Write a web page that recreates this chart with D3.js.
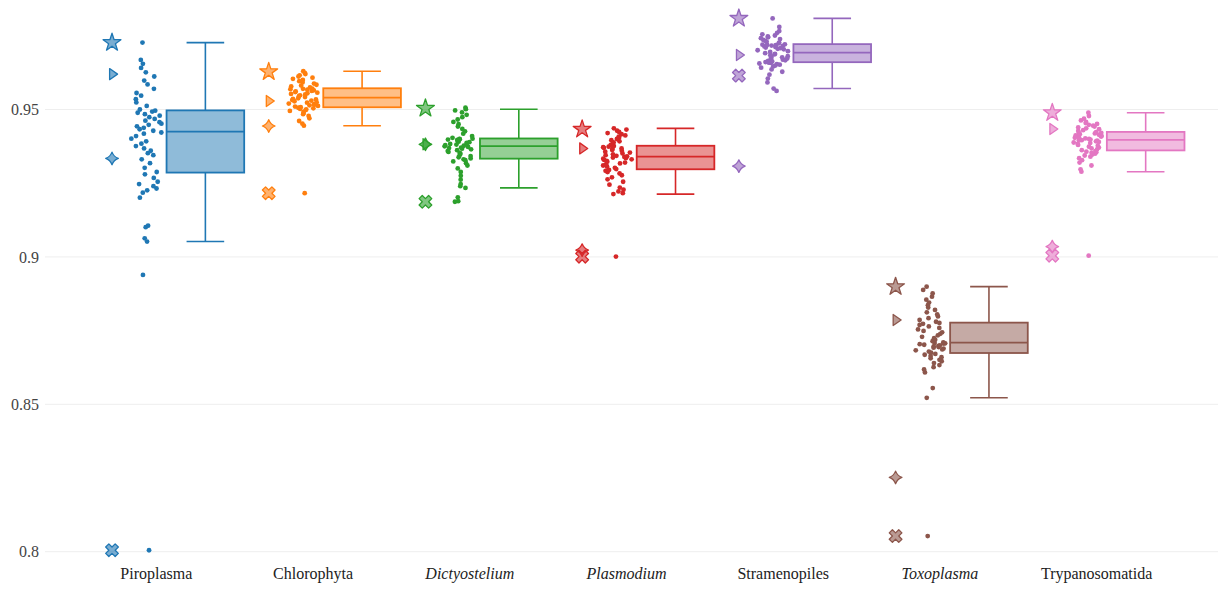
<!DOCTYPE html>
<html><head><meta charset="utf-8">
<script src="https://cdn.jsdelivr.net/npm/d3@7/dist/d3.min.js"></script>
<style>
html,body{margin:0;padding:0;background:#fff;}
svg{display:block;}
svg text{font-family:"Liberation Serif","Times New Roman",serif !important;}
</style></head>
<body>
<svg id="chart" width="1218" height="590"></svg>
<script>
// ---------- DATA ----------
const categories = ["Piroplasma","Chlorophyta","Dictyostelium","Plasmodium","Stramenopiles","Toxoplasma","Trypanosomatida"];
const italicCats = ["Dictyostelium","Plasmodium","Toxoplasma"];
const colors = ["#1f77b4","#ff7f0e","#2ca02c","#d62728","#9467bd","#8c564b","#e377c2"];

const piroplasma = [0.8005,0.8939,0.9052,0.9063,0.9101,0.9106,0.9201,0.9218,0.9226,0.9232,0.9240,0.9247,0.9255,0.9268,0.9280,0.9288,0.9302,0.9318,0.9331,0.9345,0.9352,0.9360,0.9368,0.9376,0.9384,0.9392,0.9401,0.9410,0.9418,0.9422,0.9428,0.9433,0.9438,0.9443,0.9448,0.9452,0.9457,0.9462,0.9468,0.9474,0.9479,0.9484,0.9489,0.9493,0.9496,0.9500,0.9512,0.9524,0.9535,0.9547,0.9556,0.9570,0.9585,0.9598,0.9612,0.9626,0.9641,0.9655,0.9668,0.9727];
const chlorophyta = [0.9216,0.9445,0.9452,0.9461,0.9470,0.9478,0.9484,0.9488,0.9492,0.9495,0.9498,0.9500,0.9502,0.9504,0.9506,0.9508,0.9510,0.9512,0.9514,0.9516,0.9518,0.9520,0.9523,0.9525,0.9528,0.9530,0.9532,0.9534,0.9536,0.9538,0.9542,0.9545,0.9548,0.9551,0.9553,0.9555,0.9557,0.9559,0.9561,0.9563,0.9565,0.9567,0.9569,0.9570,0.9571,0.9575,0.9578,0.9581,0.9584,0.9588,0.9592,0.9596,0.9600,0.9604,0.9608,0.9612,0.9616,0.9620,0.9624,0.9630];
const dictyostelium = [0.9187,0.9189,0.9202,0.9234,0.9240,0.9247,0.9262,0.9275,0.9288,0.9300,0.9310,0.9318,0.9324,0.9328,0.9331,0.9334,0.9338,0.9342,0.9346,0.9350,0.9353,0.9356,0.9359,0.9362,0.9365,0.9367,0.9369,0.9371,0.9373,0.9375,0.9377,0.9379,0.9381,0.9383,0.9385,0.9387,0.9389,0.9391,0.9393,0.9395,0.9397,0.9398,0.9399,0.9400,0.9401,0.9404,0.9410,0.9418,0.9426,0.9434,0.9442,0.9450,0.9458,0.9466,0.9474,0.9482,0.9490,0.9497,0.9501,0.9506];
const plasmodium = [0.9001,0.9213,0.9216,0.9222,0.9228,0.9235,0.9245,0.9255,0.9263,0.9270,0.9277,0.9283,0.9288,0.9292,0.9295,0.9298,0.9302,0.9306,0.9310,0.9314,0.9317,0.9320,0.9323,0.9326,0.9329,0.9331,0.9333,0.9335,0.9337,0.9339,0.9341,0.9343,0.9345,0.9348,0.9351,0.9354,0.9357,0.9360,0.9363,0.9366,0.9368,0.9370,0.9372,0.9374,0.9376,0.9380,0.9384,0.9388,0.9392,0.9396,0.9400,0.9404,0.9408,0.9412,0.9416,0.9420,0.9424,0.9428,0.9432,0.9436];
const stramenopiles = [0.9563,0.9571,0.9592,0.9605,0.9618,0.9628,0.9636,0.9642,0.9646,0.9649,0.9652,0.9654,0.9656,0.9658,0.9659,0.9661,0.9663,0.9665,0.9667,0.9669,0.9671,0.9673,0.9675,0.9677,0.9679,0.9681,0.9684,0.9687,0.9689,0.9691,0.9695,0.9698,0.9701,0.9704,0.9706,0.9708,0.9710,0.9712,0.9714,0.9716,0.9717,0.9718,0.9719,0.9720,0.9721,0.9724,0.9727,0.9730,0.9733,0.9736,0.9739,0.9742,0.9745,0.9748,0.9751,0.9755,0.9760,0.9766,0.9780,0.9809];
const toxoplasma = [0.8053,0.8522,0.8555,0.8608,0.8618,0.8626,0.8633,0.8640,0.8646,0.8651,0.8656,0.8660,0.8664,0.8668,0.8671,0.8675,0.8679,0.8683,0.8686,0.8689,0.8692,0.8694,0.8696,0.8698,0.8700,0.8702,0.8704,0.8706,0.8707,0.8708,0.8710,0.8714,0.8719,0.8724,0.8729,0.8734,0.8739,0.8744,0.8749,0.8754,0.8759,0.8764,0.8769,0.8773,0.8776,0.8780,0.8786,0.8792,0.8798,0.8805,0.8812,0.8820,0.8828,0.8836,0.8845,0.8855,0.8865,0.8876,0.8888,0.8899];
const trypanosomatida = [0.9004,0.9289,0.9297,0.9310,0.9320,0.9328,0.9335,0.9340,0.9344,0.9347,0.9350,0.9353,0.9355,0.9357,0.9359,0.9362,0.9365,0.9368,0.9371,0.9374,0.9377,0.9380,0.9383,0.9386,0.9388,0.9390,0.9392,0.9394,0.9395,0.9396,0.9398,0.9400,0.9402,0.9404,0.9406,0.9408,0.9410,0.9412,0.9414,0.9416,0.9418,0.9419,0.9420,0.9421,0.9423,0.9427,0.9430,0.9433,0.9436,0.9439,0.9442,0.9445,0.9448,0.9451,0.9454,0.9458,0.9463,0.9469,0.9478,0.9489];

// reference markers (one value per category)
const starValues     = [0.9727,0.9628,0.9504,0.9433,0.9809,0.8899,0.9489];
const triangleValues = [0.9620,0.9529,0.9382,0.9368,0.9685,0.8786,0.9434];
const diamondValues  = [0.9334,0.9444,0.9382,0.9023,0.9308,0.8252,0.9035];
const crossValues    = [0.8005,0.9216,0.9187,0.9001,0.9615,0.8053,0.9004];

const yTicks = [0.8,0.85,0.9,0.95];
const yTickLabels = ["0.8","0.85","0.9","0.95"];

// ---------- LAYOUT ----------
const plotLeft = 45, plotRight = 1218;
const FONT = '"Liberation Serif","Times New Roman",serif';
const svg = d3.select("#chart");

const seriesValues = [piroplasma,chlorophyta,dictyostelium,plasmodium,stramenopiles,toxoplasma,trypanosomatida];

const x = d3.scaleBand().domain(categories).range([78, 1175]).paddingInner(0).paddingOuter(0);
const bw = x.bandwidth();
const cx = c => x(c) + bw/2;
const y = d3.scaleLinear().domain([0.8,0.95]).range([551.7,109.5]);

// grid
svg.append("g").selectAll("line").data(yTicks).join("line")
  .attr("x1",plotLeft).attr("x2",plotRight)
  .attr("y1",d=>y(d)).attr("y2",d=>y(d))
  .attr("stroke","#eeeeee").attr("stroke-width",1);

// y axis labels
const yAxis = d3.axisLeft(y).tickValues(yTicks).tickFormat((d,i)=>yTickLabels[i]).tickSize(0).tickPadding(0);
const gy = svg.append("g").attr("transform",`translate(39,0)`).call(yAxis).attr("font-family",FONT).attr("font-size",16);
gy.select(".domain").remove();
gy.selectAll("text").attr("fill","#444").style("font-family",FONT).style("font-size","16px");

// x axis labels
const xAxis = d3.axisBottom(x).tickSize(0).tickPadding(0);
const gx = svg.append("g").attr("transform",`translate(0,568)`).call(xAxis).attr("font-family",FONT).attr("font-size",16);
gx.select(".domain").remove();
gx.selectAll("text").attr("fill","#222").style("font-family",FONT).style("font-size","16px")
  .style("font-style",d=>italicCats.includes(d)?"italic":"normal");

// symbol paths (plotly-like)
function starPath(r){
  const rs=r*1.4, x1=rs*0.225,x2=rs*0.951,x3=rs*0.363,x4=rs*0.588,y1=-rs*0.309,y3=rs*0.118,y4=rs*0.809,y5=rs*0.382;
  return `M${x1},${y1}H${x2}L${x3},${y3}L${x4},${y4}L0,${y5}L${-x4},${y4}L${-x3},${y3}L${-x2},${y1}H${-x1}L0,${-rs}Z`;
}
function triRightPath(r){
  const rt=r*2/Math.sqrt(3), r2=r/2;
  return `M${-r2},${rt}L${rt},0L${-r2},${-rt}Z`;
}
function starDiamondPath(t){
  const R=t*1.7;
  return `M${-t},0A${R},${R} 0 0 0 0,${-t}A${R},${R} 0 0 0 ${t},0A${R},${R} 0 0 0 0,${t}A${R},${R} 0 0 0 ${-t},0Z`;
}
function xPath(r){
  const rx=r*0.8/Math.SQRT2;
  const ne=`l${rx},${rx}`, se=`l${rx},${-rx}`, sw=`l${-rx},${-rx}`, nw=`l${-rx},${rx}`;
  return `M0,${rx}`+ne+se+sw+se+sw+nw+sw+nw+ne+nw+ne+"Z";
}

// offsets (fractions of band)
const boxOff = 0.3128, boxHalf = 0.2477, capHalf = 0.12, ptsOff = -0.064, jitHalf = 0.10, mkOff = -0.283;

// deterministic scatter of horizontal positions (layout only)
function hash01(i,s){ const v=Math.sin((i+1)*12.9898+s*78.233)*43758.5453; return v-Math.floor(v); }
function jitter(vals,s){
  const n=vals.length;
  const q1=d3.quantile(vals,0.25), q3=d3.quantile(vals,0.75);
  const sd=Math.min(d3.deviation(vals),(q3-q1)/1.34);
  const h=0.9*sd*Math.pow(n,-0.2);
  const dens=vals.map(v=>d3.sum(vals,w=>Math.exp(-0.5*((v-w)/h)**2)));
  const mx=d3.max(dens);
  return vals.map((v,i)=>{
    const u=hash01(i,s)*2-1;
    return u*Math.sqrt(dens[i]/mx);
  });
}

categories.forEach((cat,i)=>{
  const col=colors[i];
  const vals=seriesValues[i];
  const sorted=vals.slice().sort(d3.ascending);
  const q1=d3.quantile(sorted,0.25), med=d3.quantile(sorted,0.5), q3=d3.quantile(sorted,0.75);
  const iqr=q3-q1;
  const hiW=d3.max(sorted.filter(v=>v<=q3+1.5*iqr));
  const loW=d3.min(sorted.filter(v=>v>=q1-1.5*iqr));
  const c=cx(cat);
  const bc=c+boxOff*bw, bh=boxHalf*bw, ch=capHalf*bw;
  const g=svg.append("g");
  // whiskers
  g.append("line").attr("x1",bc).attr("x2",bc).attr("y1",y(q3)).attr("y2",y(hiW)).attr("stroke",col).attr("stroke-width",1.6);
  g.append("line").attr("x1",bc).attr("x2",bc).attr("y1",y(q1)).attr("y2",y(loW)).attr("stroke",col).attr("stroke-width",1.6);
  g.append("line").attr("x1",bc-ch).attr("x2",bc+ch).attr("y1",y(hiW)).attr("y2",y(hiW)).attr("stroke",col).attr("stroke-width",1.6);
  g.append("line").attr("x1",bc-ch).attr("x2",bc+ch).attr("y1",y(loW)).attr("y2",y(loW)).attr("stroke",col).attr("stroke-width",1.6);
  // box
  g.append("rect").attr("x",bc-bh).attr("width",2*bh).attr("y",y(q3)).attr("height",y(q1)-y(q3))
    .attr("fill",col).attr("fill-opacity",0.5).attr("stroke",col).attr("stroke-width",1.8);
  g.append("line").attr("x1",bc-bh).attr("x2",bc+bh).attr("y1",y(med)).attr("y2",y(med)).attr("stroke",col).attr("stroke-width",1.8);
  // points
  const j=jitter(sorted,i);
  g.selectAll("circle").data(sorted).join("circle")
    .attr("cx",(d,k)=>c+ptsOff*bw+j[k]*jitHalf*bw)
    .attr("cy",d=>y(d)).attr("r",2.4).attr("fill",col);
  // reference markers
  const mx=c+mkOff*bw;
  const mk=[[crossValues[i],xPath(5.6)],[diamondValues[i],starDiamondPath(6.3)],[triangleValues[i],triRightPath(4.8)],[starValues[i],starPath(6.7)]];
  mk.forEach(([v,p])=>{
    g.append("path").attr("d",p).attr("transform",`translate(${mx},${y(v)})`)
      .attr("fill",col).attr("fill-opacity",0.6).attr("stroke",col).attr("stroke-width",1.3).attr("stroke-linejoin","round");
  });
});
</script>
</body></html>
